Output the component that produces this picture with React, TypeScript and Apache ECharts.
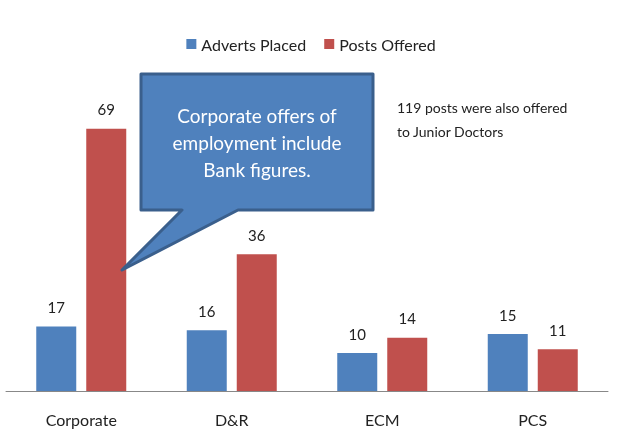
import React, { useEffect, useRef } from "react";
import * as echarts from "echarts";

const categories = ["Corporate", "D&R", "ECM", "PCS"];
const advertsPlaced = [17, 16, 10, 15];
const postsOffered = [69, 36, 14, 11];
const calloutLines = ["Corporate offers of", "employment include", "Bank figures."];
const noteLines = ["119 posts were also offered", "to Junior Doctors"];

const FONT = "Lato, 'Open Sans', sans-serif";

export default function App() {
  const ref = useRef<HTMLDivElement>(null);
  useEffect(() => {
    if (!ref.current) return;
    const chart = echarts.init(ref.current, null, { renderer: "svg" });
    chart.setOption({
      animation: false,
      textStyle: { fontFamily: FONT },
      legend: {
        top: 31,
        left: "center",
        itemWidth: 10,
        itemHeight: 10,
        itemGap: 18,
        icon: "rect",
        textStyle: { fontSize: 16, color: "#222", fontFamily: FONT },
        data: ["Adverts Placed", "Posts Offered"],
      },
      grid: { left: 6, right: 14, top: 87, bottom: 39 },
      xAxis: {
        type: "category",
        data: categories,
        axisLine: { lineStyle: { color: "#888", width: 1 } },
        axisTick: { show: false },
        axisLabel: { fontSize: 16, color: "#222", margin: 20, fontFamily: FONT },
      },
      yAxis: {
        type: "value",
        min: 0,
        max: 80,
        show: false,
        splitLine: { show: false },
      },
      series: [
        {
          name: "Adverts Placed",
          type: "bar",
          data: advertsPlaced,
          barWidth: 40,
          barGap: "25%",
          itemStyle: { color: "#4f81bd" },
          label: { show: true, position: "top", distance: 12, fontSize: 15, color: "#222", fontFamily: FONT },
        },
        {
          name: "Posts Offered",
          type: "bar",
          data: postsOffered,
          barWidth: 40,
          itemStyle: { color: "#c0504d" },
          label: { show: true, position: "top", distance: 12, fontSize: 15, color: "#222", fontFamily: FONT },
        },
      ],
      graphic: [
        {
          type: "polygon",
          shape: {
            points: [
              [141, 74],
              [373, 74],
              [373, 210],
              [238, 210],
              [122, 270],
              [182, 210],
              [141, 210],
            ],
          },
          style: { fill: "#4f81bd", stroke: "#3a5f8c", lineWidth: 3, lineJoin: "round" },
          z: 100,
        },
        {
          type: "text",
          x: 257,
          y: 142,
          style: {
            text: calloutLines.join("\n"),
            fill: "#fff",
            fontSize: 19,
            lineHeight: 27,
            fontFamily: FONT,
            align: "center",
            verticalAlign: "middle",
          },
          z: 101,
        },
        {
          type: "text",
          x: 397,
          y: 119,
          style: {
            text: noteLines.join("\n"),
            fill: "#222",
            fontSize: 14,
            lineHeight: 24,
            fontFamily: FONT,
            align: "left",
            verticalAlign: "middle",
          },
          z: 101,
        },
      ],
    });
    return () => chart.dispose();
  }, []);
  return <div ref={ref} style={{ width: 622, height: 430, position: "fixed", left: 0, top: 0 }} />;
}
